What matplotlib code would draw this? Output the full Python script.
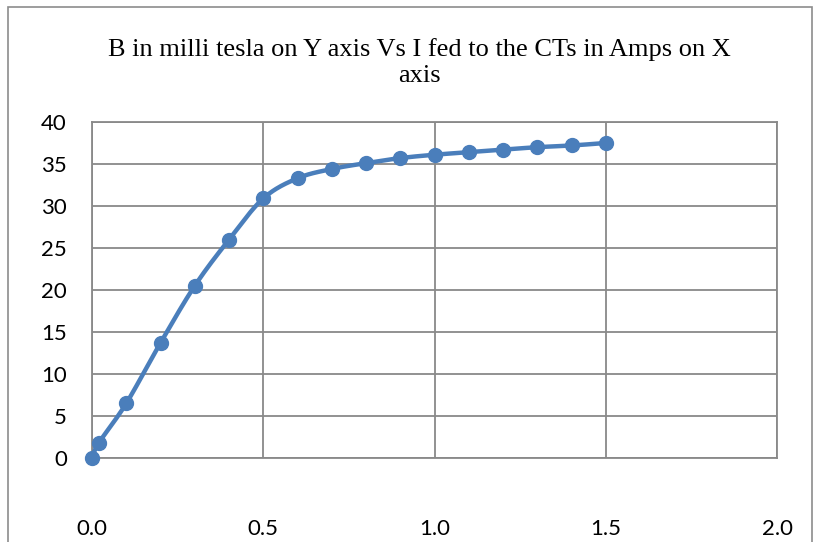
import numpy as np
import matplotlib
matplotlib.use("Agg")
import matplotlib.pyplot as plt
from matplotlib.patches import Rectangle

# current (A) vs flux density (mT)
current = [0.0, 0.02, 0.1, 0.2, 0.3, 0.4, 0.5, 0.6, 0.7, 0.8, 0.9, 1.0, 1.1, 1.2, 1.3, 1.4, 1.5]
b_field = [0.0, 1.8, 6.5, 13.7, 20.5, 26.0, 30.9, 33.3, 34.4, 35.1, 35.7, 36.1, 36.4, 36.7, 37.0, 37.2, 37.5]

x_ticks = [0.0, 0.5, 1.0, 1.5, 2.0]
y_ticks = [0, 5, 10, 15, 20, 25, 30, 35, 40]
title = "B in milli tesla on Y axis Vs I fed to the CTs in Amps on X\naxis"


def smooth_curve(xs, ys, n=30):
    # Catmull-Rom spline through the points, like Excel's smoothed line
    p = np.column_stack([xs, ys])
    p = np.vstack([p[0], p, p[-1]])
    out = []
    t = np.linspace(0, 1, n)[:, None]
    for i in range(1, len(p) - 2):
        p0, p1, p2, p3 = p[i - 1], p[i], p[i + 1], p[i + 2]
        seg = 0.5 * ((2 * p1) + (-p0 + p2) * t + (2 * p0 - 5 * p1 + 4 * p2 - p3) * t ** 2
                     + (-p0 + 3 * p1 - 3 * p2 + p3) * t ** 3)
        out.append(seg)
    out = np.vstack(out)
    return out[:, 0], out[:, 1]


fig = plt.figure(figsize=(8.14, 5.42), dpi=100)
ax = fig.add_axes([0.113, 0.155, 0.842, 0.62])

grid_col = "#898989"
sx, sy = smooth_curve(current, b_field)
ax.plot(sx, sy, color="#4a7ebb", linewidth=3.2, solid_capstyle="round", zorder=3)
ax.plot(current, b_field, linestyle="none", marker="o", markersize=10,
        color="#4a7ebb", zorder=4, clip_on=False)

ax.set_xlim(0, 2.0)
ax.set_ylim(0, 40)
ax.set_xticks(x_ticks)
ax.set_yticks(y_ticks)
ax.set_xticklabels([f"{v:.1f}" for v in x_ticks])
ax.grid(True, color=grid_col, linewidth=1.3)
ax.set_axisbelow(True)
for s in ax.spines.values():
    s.set_color(grid_col)
    s.set_linewidth(1.3)
ax.tick_params(length=0, labelsize=16, colors="black")
ax.tick_params(axis="x", pad=44)
ax.tick_params(axis="y", pad=18)
for lab in ax.get_xticklabels() + ax.get_yticklabels():
    lab.set_family("Lato")

fig.text(0.515, 0.885, title, ha="center", va="center", fontsize=19,
         family="Liberation Serif", linespacing=1.25)

fig.patches.append(Rectangle((0.01, -0.05), 0.987, 1.037, transform=fig.transFigure,
                             fill=False, edgecolor="#8c8c8c", linewidth=1.2))

fig.savefig("out.png", dpi=100)
